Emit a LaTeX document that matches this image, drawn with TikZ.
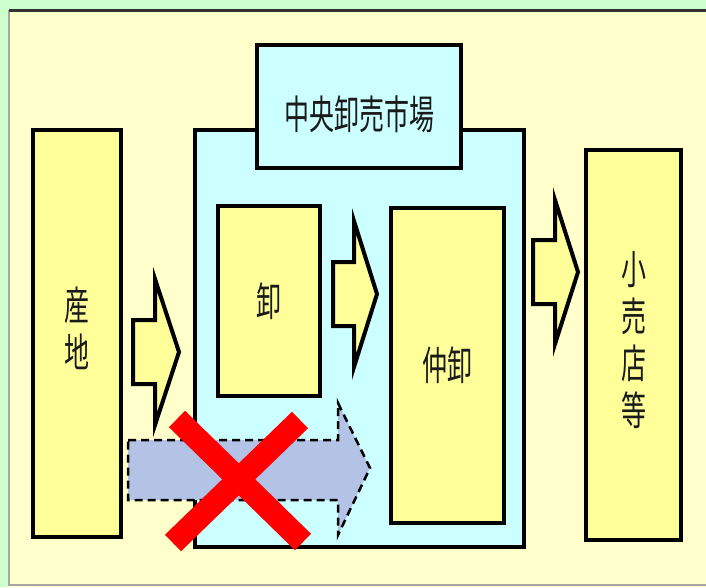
\documentclass[tikz,border=0pt]{standalone}
\usepackage{fontspec}
\usepackage{graphicx}
\newfontfamily\jp{Noto Sans CJK JP}
\definecolor{bggreen}{HTML}{CCFFCC}
\definecolor{panel}{HTML}{FFFFCC}
\definecolor{boxyellow}{HTML}{FFFF99}
\definecolor{boxblue}{HTML}{CCFFFF}
\definecolor{ghost}{HTML}{B3C3E6}
\definecolor{txt}{HTML}{1A1A1A}
\newcommand\stretchy[1]{\scalebox{1}[1.6]{#1}}
\newcommand\vstack[1]{\scalebox{1}[1.6]{\begin{tabular}{@{}c@{}}#1\end{tabular}}}
\tikzset{
  boxnode/.style={draw=black, line width=4pt, inner sep=0pt, outer sep=0pt, text=txt,
    font=\jp\fontsize{25}{27.5}\selectfont},
  yelbox/.style={boxnode, fill=boxyellow},
  bluebox/.style={boxnode, fill=boxblue},
  blockarrow/.style={draw=black, fill=boxyellow, line width=4pt, line join=miter},
  ghostarrow/.style={draw=black, fill=ghost, line width=2.5pt, dash pattern=on 8pt off 5pt},
  cross/.style={draw=red, line width=23pt, line cap=butt}
}
\begin{document}
\begin{tikzpicture}[x=1pt,y=-1pt]
\useasboundingbox (0,0) rectangle (706,587);
% background
\fill[bggreen] (0,0) rectangle (706,587);
\fill[panel] (9,10) rectangle (706,587);
\draw[gray!70, line width=1.5pt] (9,10) -- (9,585) -- (706,585);
\draw[black!80, line width=3pt] (9,10) -- (706,10);
% boxes
\node[yelbox, minimum width=88pt, minimum height=407pt] (santi) at (77,333.5)
  {\vstack{産\\地}};
\node[bluebox, minimum width=329pt, minimum height=417pt] (market) at (359.5,338.5) {};
\node[bluebox, minimum width=204pt, minimum height=123pt, text depth=0pt] (title) at (359,106.5) {};
\node[text=txt, font=\jp\fontsize{25}{27.5}\selectfont, inner sep=0pt] (titletext) at (359,114) {\stretchy{中央卸売市場}};
\node[yelbox, minimum width=102pt, minimum height=190pt] (oroshi) at (269,301) {\stretchy{卸}};
\node[yelbox, minimum width=113pt, minimum height=315pt] (naka) at (447.5,365.5) {\stretchy{仲卸}};
\node[yelbox, minimum width=95pt, minimum height=390pt] (kouri) at (633.5,345)
  {\vstack{小\\売\\店\\等}};
% block arrows
\draw[blockarrow] (133,320) -- (155,320) -- (155,279) -- (179,352) -- (155,425) -- (155,384) -- (133,384) -- cycle;
\draw[blockarrow] (333,262) -- (354,262) -- (354,221) -- (377,294) -- (354,367) -- (354,326) -- (333,326) -- cycle;
\draw[blockarrow] (533,240) -- (555,240) -- (555,200) -- (578,272) -- (555,344) -- (555,304) -- (533,304) -- cycle;
% crossed-out direct route
\draw[ghostarrow] (128,440) -- (338,440) -- (338,403) -- (370,468) -- (338,535) -- (338,500) -- (128,500) -- cycle;
\coordinate (x1a) at (177,419);
\coordinate (x1b) at (303,542);
\coordinate (x2a) at (300,420);
\coordinate (x2b) at (173,543);
\draw[cross] (x1a) -- (x1b);
\draw[cross] (x2a) -- (x2b);
\end{tikzpicture}
\end{document}
